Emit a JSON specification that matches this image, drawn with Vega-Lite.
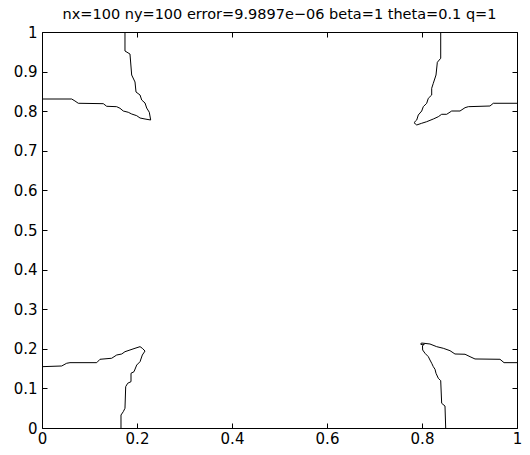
{
  "$schema": "https://vega.github.io/schema/vega-lite/v6.json",
  "width": 475,
  "height": 396,
  "autosize": {"type": "none"},
  "padding": {"left": 42, "top": 32, "right": 13, "bottom": 27},
  "background": "white",
  "title": {
    "text": "nx=100 ny=100 error=9.9897e−06 beta=1 theta=0.1 q=1",
    "font": "DejaVu Sans",
    "fontSize": 14.5,
    "fontWeight": "normal",
    "color": "black",
    "anchor": "middle",
    "offset": 3
  },
  "data": {
    "values": [
      {"c": "A", "i": 1, "x": 0.1747, "y": 1.0},
      {"c": "A", "i": 2, "x": 0.1747, "y": 0.952},
      {"c": "A", "i": 3, "x": 0.1852, "y": 0.9444},
      {"c": "A", "i": 4, "x": 0.1888, "y": 0.8914},
      {"c": "A", "i": 5, "x": 0.1958, "y": 0.8738},
      {"c": "A", "i": 6, "x": 0.1979, "y": 0.8485},
      {"c": "A", "i": 7, "x": 0.2064, "y": 0.8409},
      {"c": "A", "i": 8, "x": 0.2099, "y": 0.8283},
      {"c": "A", "i": 9, "x": 0.2169, "y": 0.8207},
      {"c": "A", "i": 10, "x": 0.2204, "y": 0.808},
      {"c": "A", "i": 11, "x": 0.2259, "y": 0.7973},
      {"c": "A", "i": 12, "x": 0.2288, "y": 0.7778},
      {"c": "A", "i": 13, "x": 0.2169, "y": 0.7803},
      {"c": "A", "i": 14, "x": 0.2064, "y": 0.7828},
      {"c": "A", "i": 15, "x": 0.1994, "y": 0.7887},
      {"c": "A", "i": 16, "x": 0.1888, "y": 0.7929},
      {"c": "A", "i": 17, "x": 0.1816, "y": 0.7973},
      {"c": "A", "i": 18, "x": 0.1711, "y": 0.8005},
      {"c": "A", "i": 19, "x": 0.1642, "y": 0.8074},
      {"c": "A", "i": 20, "x": 0.1572, "y": 0.8114},
      {"c": "A", "i": 21, "x": 0.1362, "y": 0.8124},
      {"c": "A", "i": 22, "x": 0.1291, "y": 0.819},
      {"c": "A", "i": 23, "x": 0.0764, "y": 0.82},
      {"c": "A", "i": 24, "x": 0.0694, "y": 0.8258},
      {"c": "A", "i": 25, "x": 0.0625, "y": 0.8308},
      {"c": "A", "i": 26, "x": 0.0, "y": 0.8308},
      {"c": "B", "i": 1, "x": 0.8394, "y": 1.0},
      {"c": "B", "i": 2, "x": 0.8394, "y": 0.9336},
      {"c": "B", "i": 3, "x": 0.8323, "y": 0.9235},
      {"c": "B", "i": 4, "x": 0.8295, "y": 0.8914},
      {"c": "B", "i": 5, "x": 0.8238, "y": 0.8705},
      {"c": "B", "i": 6, "x": 0.8204, "y": 0.8579},
      {"c": "B", "i": 7, "x": 0.8204, "y": 0.8409},
      {"c": "B", "i": 8, "x": 0.8133, "y": 0.8326},
      {"c": "B", "i": 9, "x": 0.8099, "y": 0.82},
      {"c": "B", "i": 10, "x": 0.8027, "y": 0.8114},
      {"c": "B", "i": 11, "x": 0.7994, "y": 0.8005},
      {"c": "B", "i": 12, "x": 0.7922, "y": 0.7904},
      {"c": "B", "i": 13, "x": 0.7889, "y": 0.7778},
      {"c": "B", "i": 14, "x": 0.7831, "y": 0.771},
      {"c": "B", "i": 15, "x": 0.7889, "y": 0.7652},
      {"c": "B", "i": 16, "x": 0.7994, "y": 0.7695},
      {"c": "B", "i": 17, "x": 0.8099, "y": 0.7735},
      {"c": "B", "i": 18, "x": 0.8238, "y": 0.7803},
      {"c": "B", "i": 19, "x": 0.8343, "y": 0.7861},
      {"c": "B", "i": 20, "x": 0.8414, "y": 0.7922},
      {"c": "B", "i": 21, "x": 0.852, "y": 0.7922},
      {"c": "B", "i": 22, "x": 0.8625, "y": 0.8005},
      {"c": "B", "i": 23, "x": 0.88, "y": 0.8005},
      {"c": "B", "i": 24, "x": 0.8906, "y": 0.8089},
      {"c": "B", "i": 25, "x": 0.8975, "y": 0.8114},
      {"c": "B", "i": 26, "x": 0.9431, "y": 0.8131},
      {"c": "B", "i": 27, "x": 0.9501, "y": 0.82},
      {"c": "B", "i": 28, "x": 1.0, "y": 0.82},
      {"c": "C", "i": 1, "x": 0.0, "y": 0.1549},
      {"c": "C", "i": 2, "x": 0.0415, "y": 0.1566},
      {"c": "C", "i": 3, "x": 0.052, "y": 0.1635},
      {"c": "C", "i": 4, "x": 0.0589, "y": 0.165},
      {"c": "C", "i": 5, "x": 0.1152, "y": 0.165},
      {"c": "C", "i": 6, "x": 0.1221, "y": 0.1735},
      {"c": "C", "i": 7, "x": 0.1467, "y": 0.1761},
      {"c": "C", "i": 8, "x": 0.1572, "y": 0.1843},
      {"c": "C", "i": 9, "x": 0.1678, "y": 0.1869},
      {"c": "C", "i": 10, "x": 0.1747, "y": 0.1927},
      {"c": "C", "i": 11, "x": 0.1852, "y": 0.197},
      {"c": "C", "i": 12, "x": 0.1958, "y": 0.2013},
      {"c": "C", "i": 13, "x": 0.2064, "y": 0.2054},
      {"c": "C", "i": 14, "x": 0.2112, "y": 0.2013},
      {"c": "C", "i": 15, "x": 0.2169, "y": 0.1944},
      {"c": "C", "i": 16, "x": 0.2112, "y": 0.1843},
      {"c": "C", "i": 17, "x": 0.2064, "y": 0.1675},
      {"c": "C", "i": 18, "x": 0.1994, "y": 0.159},
      {"c": "C", "i": 19, "x": 0.1937, "y": 0.1422},
      {"c": "C", "i": 20, "x": 0.1874, "y": 0.1382},
      {"c": "C", "i": 21, "x": 0.1874, "y": 0.117},
      {"c": "C", "i": 22, "x": 0.1804, "y": 0.113},
      {"c": "C", "i": 23, "x": 0.1762, "y": 0.1044},
      {"c": "C", "i": 24, "x": 0.1747, "y": 0.0498},
      {"c": "C", "i": 25, "x": 0.1711, "y": 0.0412},
      {"c": "C", "i": 26, "x": 0.1663, "y": 0.0328},
      {"c": "C", "i": 27, "x": 0.1663, "y": 0.0},
      {"c": "D", "i": 1, "x": 1.0, "y": 0.165},
      {"c": "D", "i": 2, "x": 0.9727, "y": 0.165},
      {"c": "D", "i": 3, "x": 0.9642, "y": 0.1735},
      {"c": "D", "i": 4, "x": 0.9116, "y": 0.1743},
      {"c": "D", "i": 5, "x": 0.9011, "y": 0.1801},
      {"c": "D", "i": 6, "x": 0.8906, "y": 0.1862},
      {"c": "D", "i": 7, "x": 0.8694, "y": 0.1869},
      {"c": "D", "i": 8, "x": 0.8589, "y": 0.1953},
      {"c": "D", "i": 9, "x": 0.8448, "y": 0.2013},
      {"c": "D", "i": 10, "x": 0.8309, "y": 0.2054},
      {"c": "D", "i": 11, "x": 0.8168, "y": 0.2121},
      {"c": "D", "i": 12, "x": 0.8042, "y": 0.2139},
      {"c": "D", "i": 13, "x": 0.7986, "y": 0.2146},
      {"c": "D", "i": 14, "x": 0.7974, "y": 0.2114},
      {"c": "D", "i": 15, "x": 0.8032, "y": 0.2096},
      {"c": "D", "i": 16, "x": 0.8048, "y": 0.2121},
      {"c": "D", "i": 17, "x": 0.801, "y": 0.2079},
      {"c": "D", "i": 18, "x": 0.8014, "y": 0.197},
      {"c": "D", "i": 19, "x": 0.8063, "y": 0.1887},
      {"c": "D", "i": 20, "x": 0.8133, "y": 0.1801},
      {"c": "D", "i": 21, "x": 0.8168, "y": 0.1717},
      {"c": "D", "i": 22, "x": 0.8204, "y": 0.1635},
      {"c": "D", "i": 23, "x": 0.8238, "y": 0.1549},
      {"c": "D", "i": 24, "x": 0.8274, "y": 0.1483},
      {"c": "D", "i": 25, "x": 0.8295, "y": 0.1382},
      {"c": "D", "i": 26, "x": 0.8343, "y": 0.1256},
      {"c": "D", "i": 27, "x": 0.8394, "y": 0.1195},
      {"c": "D", "i": 28, "x": 0.8414, "y": 0.0624},
      {"c": "D", "i": 29, "x": 0.8484, "y": 0.0555},
      {"c": "D", "i": 30, "x": 0.8499, "y": 0.0}
    ]
  },
  "layer": [
    {
      "mark": {"type": "line", "color": "black", "strokeWidth": 1, "clip": true},
      "encoding": {
        "x": {
          "field": "x", "type": "quantitative",
          "scale": {"domain": [0, 1], "nice": false, "zero": false},
          "axis": {"orient": "bottom", "title": null, "values": [0, 0.2, 0.4, 0.6, 0.8, 1], "format": "~g", "labelPadding": 8, "labelFlush": false, "labelBound": false}
        },
        "y": {
          "field": "y", "type": "quantitative",
          "scale": {"domain": [0, 1], "nice": false, "zero": false},
          "axis": {"orient": "left", "title": null, "values": [0, 0.1, 0.2, 0.3, 0.4, 0.5, 0.6, 0.7, 0.8, 0.9, 1], "format": "~g", "labelPadding": 10, "labelFlush": false, "labelBound": false}
        },
        "detail": {"field": "c"},
        "order": {"field": "i", "type": "quantitative"}
      }
    },
    {
      "mark": {"type": "line", "opacity": 0},
      "encoding": {
        "x": {
          "field": "x", "type": "quantitative",
          "axis": {"orient": "top", "title": null, "values": [0, 0.2, 0.4, 0.6, 0.8, 1], "labels": false}
        },
        "y": {
          "field": "y", "type": "quantitative",
          "axis": {"orient": "right", "title": null, "values": [0, 0.1, 0.2, 0.3, 0.4, 0.5, 0.6, 0.7, 0.8, 0.9, 1], "labels": false}
        },
        "detail": {"field": "c"},
        "order": {"field": "i", "type": "quantitative"}
      }
    }
  ],
  "resolve": {"axis": {"x": "independent", "y": "independent"}},
  "config": {
    "view": {"stroke": null},
    "axis": {
      "grid": false,
      "domainColor": "black",
      "domainWidth": 1,
      "tickColor": "black",
      "tickWidth": 1,
      "tickSize": -5,
      "labelFont": "DejaVu Sans",
      "labelFontSize": 15,
      "labelColor": "black"
    }
  }
}
